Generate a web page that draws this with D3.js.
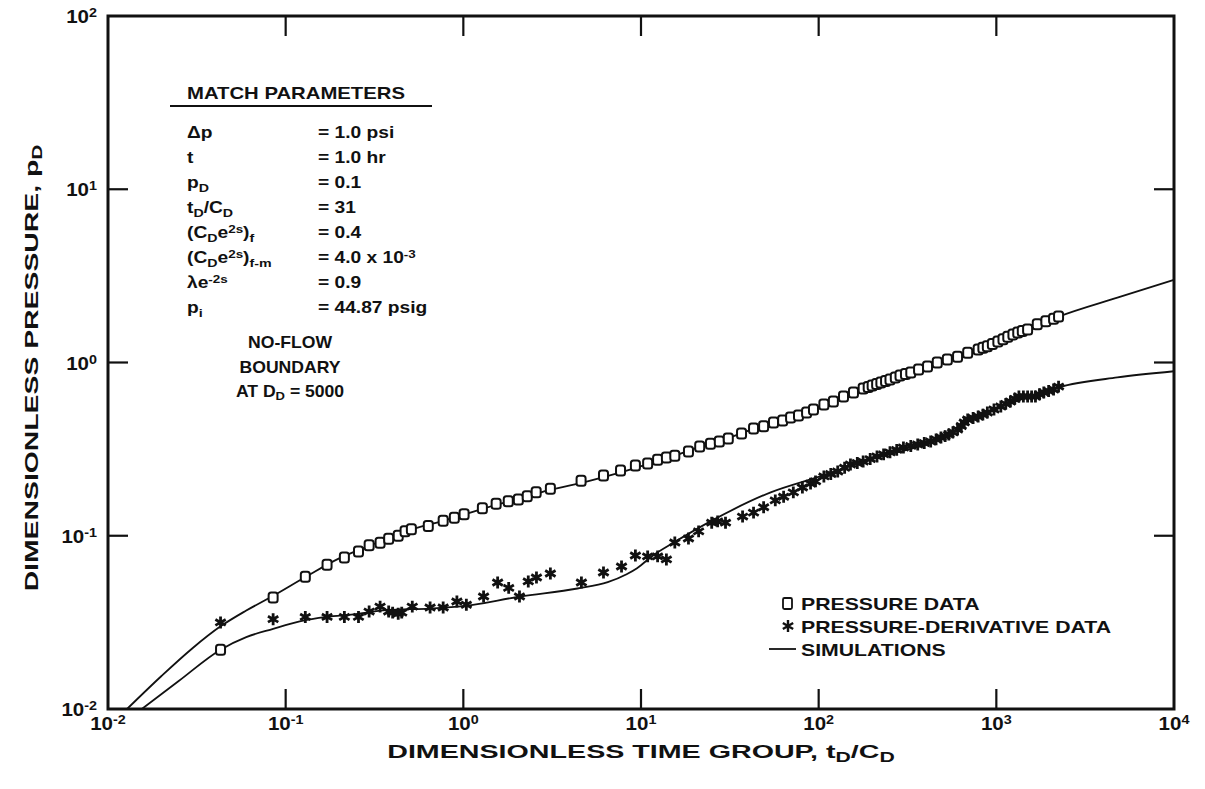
<!DOCTYPE html>
<html>
<head>
<meta charset="utf-8">
<script src="https://cdn.jsdelivr.net/npm/d3@7"></script>
<style>
  html, body { margin: 0; padding: 0; background: #fff; }
  svg { display: block; }
  text { font-family: "Liberation Sans", Arial, Helvetica, sans-serif; font-weight: bold; fill: #111; }
</style>
</head>
<body>
<svg id="chart" width="1205" height="789"></svg>
<script>
// Measured pressure response (t_D/C_D, p_D)
const pressureTime = [0.043, 0.085, 0.129, 0.171, 0.214, 0.257, 0.295, 0.34, 0.38, 0.43, 0.47, 0.51, 0.635, 0.77, 0.89, 1.01, 1.28, 1.53, 1.79, 2.04, 2.29, 2.57, 3.09, 4.6, 6.15, 7.67, 9.3, 10.9, 12.4, 13.9, 15.5, 18.5, 21.4, 24.6, 27.6, 31, 36.8, 43, 49, 55.7, 62.7, 69.5, 77, 85.5, 93.5, 107, 121, 138, 157, 178, 190, 200, 212, 224, 238, 252, 270, 287, 308, 330, 365, 410, 465, 530, 605, 690, 790, 840, 890, 950, 1020, 1090, 1160, 1240, 1320, 1400, 1500, 1700, 1900, 2100, 2240];
const pressureValue = [0.022, 0.044, 0.058, 0.068, 0.075, 0.081, 0.088, 0.091, 0.096, 0.100, 0.106, 0.109, 0.114, 0.122, 0.127, 0.133, 0.144, 0.153, 0.158, 0.162, 0.169, 0.178, 0.187, 0.208, 0.223, 0.238, 0.254, 0.261, 0.275, 0.283, 0.290, 0.306, 0.327, 0.340, 0.350, 0.364, 0.389, 0.416, 0.428, 0.451, 0.463, 0.482, 0.494, 0.514, 0.535, 0.573, 0.596, 0.637, 0.671, 0.708, 0.722, 0.736, 0.752, 0.767, 0.782, 0.798, 0.820, 0.841, 0.858, 0.875, 0.912, 0.948, 1.00, 1.04, 1.08, 1.14, 1.19, 1.215, 1.24, 1.28, 1.32, 1.36, 1.41, 1.45, 1.49, 1.52, 1.55, 1.66, 1.73, 1.79, 1.84];

// Measured pressure-derivative response
const derivTime = [0.043, 0.085, 0.129, 0.171, 0.214, 0.257, 0.295, 0.34, 0.38, 0.40, 0.43, 0.45, 0.516, 0.65, 0.77, 0.92, 1.04, 1.30, 1.56, 1.80, 2.07, 2.32, 2.58, 3.09, 4.62, 6.15, 7.77, 9.3, 10.9, 12.4, 13.9, 15.5, 18.5, 21.1, 25, 27, 29.9, 37.3, 43, 49, 57, 63.5, 72, 81, 90, 96, 107, 117, 128, 140, 151, 165, 178, 195, 213, 232, 252, 275, 300, 330, 361, 393, 427, 458, 488, 515, 540, 570, 605, 635, 660, 690, 740, 790, 840, 890, 970, 1060, 1130, 1200, 1270, 1340, 1420, 1500, 1580, 1660, 1750, 1850, 1970, 2100, 2240];
const derivValue = [0.0316, 0.033, 0.034, 0.034, 0.034, 0.034, 0.0365, 0.039, 0.0365, 0.036, 0.0355, 0.036, 0.039, 0.0385, 0.0385, 0.0417, 0.040, 0.0446, 0.0537, 0.050, 0.0446, 0.0545, 0.0574, 0.0606, 0.0537, 0.0614, 0.0665, 0.0769, 0.076, 0.076, 0.073, 0.0914, 0.0964, 0.106, 0.119, 0.121, 0.119, 0.129, 0.136, 0.146, 0.160, 0.168, 0.178, 0.190, 0.200, 0.206, 0.220, 0.227, 0.235, 0.247, 0.258, 0.263, 0.268, 0.277, 0.287, 0.295, 0.303, 0.313, 0.323, 0.330, 0.336, 0.343, 0.350, 0.360, 0.369, 0.376, 0.384, 0.396, 0.41, 0.43, 0.451, 0.469, 0.478, 0.488, 0.500, 0.514, 0.535, 0.557, 0.577, 0.596, 0.617, 0.637, 0.637, 0.637, 0.637, 0.637, 0.655, 0.671, 0.685, 0.698, 0.726];

// Simulated pressure curve
const simPressureTime = [0.0128, 0.02, 0.03, 0.043, 0.06, 0.085, 0.13, 0.2, 0.3, 0.5, 0.75, 1, 1.5, 2, 3, 5, 7, 10, 15, 20, 30, 50, 70, 100, 150, 200, 300, 500, 700, 1000, 1500, 2240, 4800, 10000];
const simPressureValue = [0.0100, 0.0155, 0.0225, 0.0300, 0.037, 0.045, 0.058, 0.074, 0.088, 0.108, 0.121, 0.132, 0.150, 0.162, 0.183, 0.206, 0.226, 0.252, 0.287, 0.318, 0.362, 0.437, 0.485, 0.555, 0.655, 0.735, 0.855, 1.02, 1.15, 1.30, 1.55, 1.84, 2.37, 3.0];

// Simulated pressure-derivative curve
const simDerivTime = [0.0155, 0.025, 0.043, 0.06, 0.085, 0.12, 0.17, 0.24, 0.37, 0.65, 1, 2.09, 4.39, 6.5, 8.3, 9.5, 11.7, 15.2, 24.6, 53.7, 102, 213, 430, 540, 700, 1000, 1500, 2240, 4800, 10000];
const simDerivValue = [0.0100, 0.0145, 0.0220, 0.0260, 0.0290, 0.0320, 0.0340, 0.0352, 0.0372, 0.0380, 0.0392, 0.0446, 0.0496, 0.0540, 0.0600, 0.0650, 0.0770, 0.0910, 0.121, 0.178, 0.220, 0.283, 0.345, 0.380, 0.470, 0.545, 0.630, 0.72, 0.82, 0.89];

// Axis decades
const xTickExponents = [-2, -1, 0, 1, 2, 3, 4];
const yTickExponents = [-2, -1, 0, 1, 2];

// Match parameter table
const matchLabels = [
  [{t: "Δp"}],
  [{t: "t"}],
  [{t: "p"}, {t: "D", sub: true}],
  [{t: "t"}, {t: "D", sub: true}, {t: "/C"}, {t: "D", sub: true}],
  [{t: "(C"}, {t: "D", sub: true}, {t: "e"}, {t: "2s", sup: true}, {t: ")"}, {t: "f", sub: true}],
  [{t: "(C"}, {t: "D", sub: true}, {t: "e"}, {t: "2s", sup: true}, {t: ")"}, {t: "f-m", sub: true}],
  [{t: "λe"}, {t: "-2s", sup: true}],
  [{t: "p"}, {t: "i", sub: true}]
];
const matchValues = [
  [{t: "= 1.0 psi"}],
  [{t: "= 1.0 hr"}],
  [{t: "= 0.1"}],
  [{t: "= 31"}],
  [{t: "= 0.4"}],
  [{t: "= 4.0 x 10"}, {t: "-3", sup: true}],
  [{t: "= 0.9"}],
  [{t: "= 44.87 psig"}]
];
const legendLabels = ["PRESSURE DATA", "PRESSURE-DERIVATIVE DATA", "SIMULATIONS"];

const svg = d3.select("#chart");
const plotLeft = 108, plotRight = 1174, plotTop = 16, plotBottom = 709;

const x = d3.scaleLog().domain([1e-2, 1e4]).range([plotLeft, plotRight]);
const y = d3.scaleLog().domain([1e-2, 1e2]).range([plotBottom, plotTop]);

// Text with sub/superscript segments, placed at (px, py), widened by sx
function label(px, py, segs, size, opts = {}) {
  const g = svg.append("g");
  const t = g.append("text").attr("font-size", size).attr("text-anchor", opts.anchor || "start");
  segs.forEach(s => {
    const ts = t.append("tspan").text(s.t);
    if (s.sub) ts.attr("font-size", size * 0.74).attr("baseline-shift", "-28%");
    else if (s.sup) ts.attr("font-size", size * 0.7).attr("baseline-shift", "40%");
  });
  let sx = opts.sx || 1;
  if (opts.width) sx = opts.width / t.node().getComputedTextLength();
  const rot = opts.rotate ? ` rotate(${opts.rotate})` : "";
  g.attr("transform", `translate(${px},${py})${rot} scale(${sx},1)`);
  return g;
}

// Clip for plot contents
svg.append("defs").append("clipPath").attr("id", "plotClip")
  .append("rect").attr("x", plotLeft).attr("y", plotTop)
  .attr("width", plotRight - plotLeft).attr("height", plotBottom - plotTop);

// Ticks (inward, all four sides)
const tickLen = 20;
const g = svg.append("g").attr("stroke", "#111").attr("stroke-width", 2.2);
xTickExponents.slice(1, -1).forEach(e => {
  const px = x(Math.pow(10, e));
  g.append("line").attr("x1", px).attr("x2", px).attr("y1", plotBottom).attr("y2", plotBottom - tickLen);
  g.append("line").attr("x1", px).attr("x2", px).attr("y1", plotTop).attr("y2", plotTop + tickLen);
});
yTickExponents.slice(1, -1).forEach(e => {
  const py = y(Math.pow(10, e));
  g.append("line").attr("x1", plotLeft).attr("x2", plotLeft + tickLen).attr("y1", py).attr("y2", py);
  g.append("line").attr("x1", plotRight).attr("x2", plotRight - tickLen).attr("y1", py).attr("y2", py);
});

// Frame
svg.append("rect").attr("x", plotLeft).attr("y", plotTop)
  .attr("width", plotRight - plotLeft).attr("height", plotBottom - plotTop)
  .attr("fill", "none").attr("stroke", "#111").attr("stroke-width", 3);

// Tick labels
xTickExponents.forEach(e => {
  label(x(Math.pow(10, e)), 730, [{t: "10"}, {t: String(e), sup: true}], 19, {anchor: "middle", sx: 1.08});
});
yTickExponents.forEach(e => {
  label(97, y(Math.pow(10, e)) + 7, [{t: "10"}, {t: String(e), sup: true}], 19, {anchor: "end", sx: 1.08});
});

// Axis titles
label(641, 758, [{t: "DIMENSIONLESS TIME GROUP, t"}, {t: "D", sub: true}, {t: "/C"}, {t: "D", sub: true}], 19,
  {anchor: "middle", width: 508});
label(38, 368, [{t: "DIMENSIONLESS PRESSURE, p"}, {t: "D", sub: true}], 19,
  {anchor: "middle", width: 447, rotate: -90});

// Simulation curves
const line = d3.line().x(d => x(d[0])).y(d => y(d[1])).curve(d3.curveMonotoneX);
const plot = svg.append("g").attr("clip-path", "url(#plotClip)");
plot.append("path").datum(d3.zip(simPressureTime, simPressureValue))
  .attr("d", line).attr("fill", "none").attr("stroke", "#111").attr("stroke-width", 1.8);
plot.append("path").datum(d3.zip(simDerivTime, simDerivValue))
  .attr("d", line).attr("fill", "none").attr("stroke", "#111").attr("stroke-width", 1.8);

// Markers
const star = d3.symbol().type(d3.symbolAsterisk).size(100);
plot.append("g").selectAll("path").data(d3.zip(derivTime, derivValue)).join("path")
  .attr("transform", d => `translate(${x(d[0])},${y(d[1])})`)
  .attr("d", star).attr("fill", "none").attr("stroke", "#111").attr("stroke-width", 2.8);
plot.append("g").selectAll("rect").data(d3.zip(pressureTime, pressureValue)).join("rect")
  .attr("x", d => x(d[0]) - 4.5).attr("y", d => y(d[1]) - 5).attr("width", 9).attr("height", 10)
  .attr("rx", 2.5).attr("fill", "#fff").attr("stroke", "#111").attr("stroke-width", 2);

// Match parameter block
label(187, 99, [{t: "MATCH PARAMETERS"}], 17, {width: 218});
svg.append("line").attr("x1", 170).attr("x2", 432).attr("y1", 106).attr("y2", 106)
  .attr("stroke", "#111").attr("stroke-width", 2);
matchLabels.forEach((segs, i) => {
  const yy = 138 + i * 25;
  label(187, yy, segs, 16, {sx: 1.2});
  label(318, yy, matchValues[i], 16, {sx: 1.2});
});

// Boundary note
[[{t: "NO-FLOW"}], [{t: "BOUNDARY"}], [{t: "AT D"}, {t: "D", sub: true}, {t: " = 5000"}]].forEach((segs, i) => {
  label(290, 348 + i * 24.5, segs, 16, {anchor: "middle", sx: 1.1});
});

// Legend
const lg = svg.append("g");
lg.append("rect").attr("x", 783).attr("y", 598).attr("width", 9).attr("height", 11).attr("rx", 1.5)
  .attr("fill", "#fff").attr("stroke", "#111").attr("stroke-width", 1.8);
lg.append("path").attr("transform", "translate(788,626)").attr("d", star)
  .attr("fill", "none").attr("stroke", "#111").attr("stroke-width", 2.4);
lg.append("line").attr("x1", 769).attr("x2", 796).attr("y1", 649).attr("y2", 649)
  .attr("stroke", "#111").attr("stroke-width", 1.8);
legendLabels.forEach((s, i) => {
  label(801, 610 + i * 23, [{t: s}], 17, {sx: 1.25});
});
</script>
</body>
</html>
